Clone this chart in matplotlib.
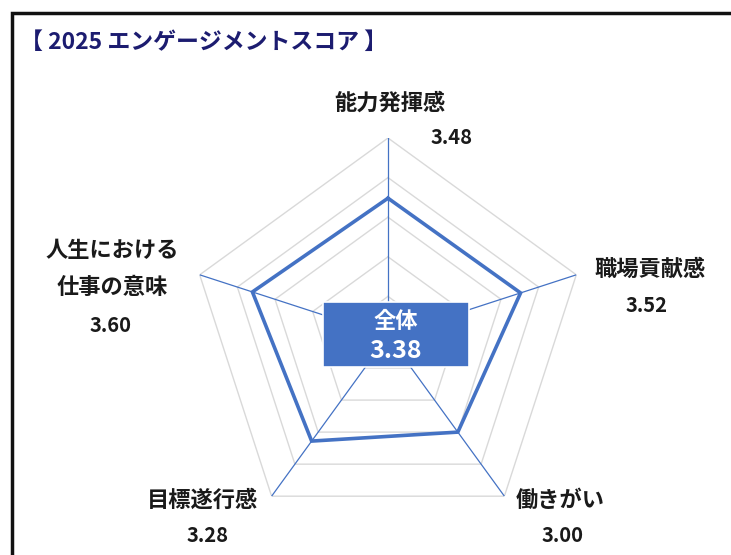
import numpy as np
import matplotlib
matplotlib.use("Agg")
import matplotlib.pyplot as plt
import matplotlib.patches as mpatches

plt.rcParams["font.family"] = ["Noto Sans CJK JP", "DejaVu Sans"]

# Data
categories = ["能力発揮感", "職場貢献感", "働きがい", "目標遂行感", "人生における\n仕事の意味"]
scores = [3.48, 3.52, 3.00, 3.28, 3.60]
overall = 3.38
ring_levels = [1, 2, 3, 4, 5]
title = "【 2025 エンゲージメントスコア 】"

BLUE = "#4472C4"
GRID = "#D9D9D9"

W, H = 731, 555
fig = plt.figure(figsize=(W / 100, H / 100), dpi=100)

# polar axes: centre ~ (388, 336) px, radius ~198 px
cx, cy, R = 388, 336, 198
ax = fig.add_axes([(cx - R) / W, (H - cy - R) / H, 2 * R / W, 2 * R / H], projection="polar")
ax.set_theta_offset(np.pi / 2)
ax.set_theta_direction(-1)
ax.set_ylim(0, ring_levels[-1])
ax.axis("off")

n = len(categories)
theta = np.linspace(0, 2 * np.pi, n, endpoint=False)
theta_closed = np.append(theta, theta[0])

# pentagon grid rings
for lvl in ring_levels:
    ax.plot(theta_closed, [lvl] * (n + 1), color=GRID, lw=1.0, zorder=1)

# spokes
for t in theta:
    ax.plot([t, t], [0, ring_levels[-1]], color=BLUE, lw=0.9, zorder=2)

# data polygon
vals = np.append(scores, scores[0])
ax.plot(theta_closed, vals, color=BLUE, lw=2.6, zorder=3, solid_joinstyle="miter")

# category labels and values (pixel layout)
label_pos = [(390, 103), (650, 269), (560, 500), (202, 500), (112, 269)]
value_pos = [(452, 138), (647, 306), (563, 535), (208, 535), (111, 325)]
for name, v, (lx, ly), (vx, vy) in zip(categories, scores, label_pos, value_pos):
    fig.text(lx / W, 1 - ly / H, name, ha="center", va="center", fontsize=16,
             fontweight="bold", color="#1a1a1a", linespacing=1.75)
    fig.text(vx / W, 1 - vy / H, f"{v:.2f}", ha="center", va="center", fontsize=14.5,
             fontweight="bold", color="#1a1a1a")

# centre box with overall score
bx0, by0, bx1, by1 = 323, 302, 469, 367
box = mpatches.Rectangle((bx0 / W, 1 - by1 / H), (bx1 - bx0) / W, (by1 - by0) / H,
                         transform=fig.transFigure, facecolor=BLUE, edgecolor="white",
                         lw=1.2, zorder=5)
fig.patches.append(box)
fig.text((bx0 + bx1) / 2 / W, 1 - 321 / H, "全体", ha="center", va="center",
         fontsize=16, fontweight="bold", color="white", zorder=6)
fig.text((bx0 + bx1) / 2 / W, 1 - 351 / H, f"{overall:.2f}", ha="center", va="center",
         fontsize=18, fontweight="bold", color="white", zorder=6)

# title
fig.text(20 / W, 1 - 42 / H, title, ha="left", va="center", fontsize=16.5,
         fontweight="bold", color="#1C1C70")

# outer frame
frame = mpatches.Rectangle((12 / W, -0.05), (W - 12 + 20) / W, 1 - 13 / H + 0.05,
                           transform=fig.transFigure, facecolor="none",
                           edgecolor="#111111", lw=2.5)
fig.patches.append(frame)

fig.savefig("out.png", dpi=100, facecolor="white")
